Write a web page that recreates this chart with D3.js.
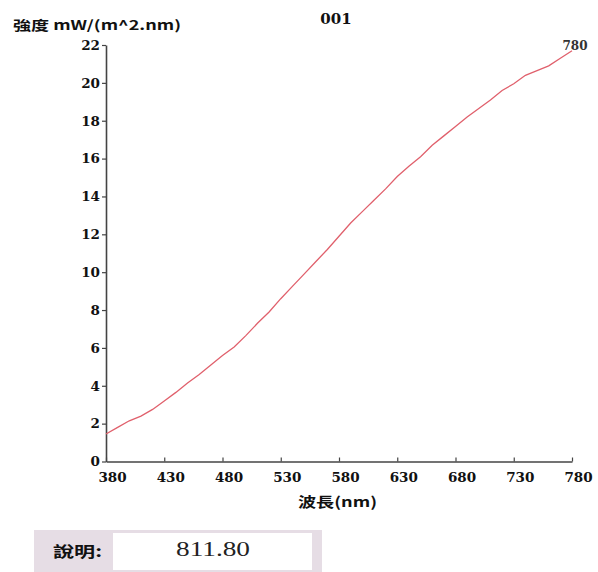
<!DOCTYPE html>
<html><head><meta charset="utf-8">
<script src="https://cdn.jsdelivr.net/npm/d3@7"></script>
<style>
html,body{margin:0;padding:0;background:#fff;}
svg{display:block;}
</style></head>
<body>
<svg id="c" width="598" height="572"></svg>
<script>
const wavelengths = [380,390,400,410,420,430,440,450,460,470,480,490,500,510,520,530,540,550,560,570,580,590,600,610,620,630,640,650,660,670,680,690,700,710,720,730,740,750,760,770,780];
const intensity  = [1.45,1.8,2.15,2.4,2.75,3.2,3.65,4.15,4.6,5.1,5.6,6.05,6.65,7.3,7.9,8.6,9.25,9.9,10.55,11.2,11.9,12.6,13.2,13.8,14.4,15.05,15.6,16.1,16.7,17.2,17.7,18.2,18.65,19.1,19.6,19.95,20.4,20.65,20.9,21.3,21.7];
const xTicks = [380,430,480,530,580,630,680,730,780];
const yTicks = [0,2,4,6,8,10,12,14,16,18,20,22];
const chartTitle = "001";
const yTitle = "強度 mW/(m^2.nm)";
const xTitle = "波長(nm)";
const endLabel = "780";
const noteLabel = "說明:";
const noteValue = "811.80";

const svg = d3.select("#c");
const x = d3.scaleLinear().domain([380,780]).range([106,572]);
const y = d3.scaleLinear().domain([0,22]).range([461.5,45]);
const numFont = "'DejaVu Serif', serif";
const cjkFont = "'Noto Sans CJK TC','Noto Sans CJK JP',sans-serif";

// axes
const xAxis = svg.append("g").attr("transform","translate(0,461.5)")
  .call(d3.axisBottom(x).tickValues(xTicks).tickSize(3).tickSizeOuter(0).tickFormat(d3.format("d")));
xAxis.selectAll(".tick line").attr("y1",0).attr("y2",-4);
const yAxis = svg.append("g").attr("transform","translate(106,0)")
  .call(d3.axisLeft(y).tickValues(yTicks).tickSize(4).tickSizeOuter(0).tickFormat(d3.format("d")));
[xAxis,yAxis].forEach(g=>{
  g.select(".domain").attr("stroke","#444").attr("stroke-width",1.6);
  g.selectAll(".tick line").attr("stroke","#444").attr("stroke-width",1.2);
  g.selectAll(".tick text").attr("fill","#111").style("font-family",numFont)
    .style("font-weight","bold").style("font-size","13.5px");
});
xAxis.selectAll(".tick text").attr("dy","0.35em").attr("y",16).attr("x",6);
yAxis.selectAll(".tick text").attr("x",-6);

// line
svg.append("path")
  .datum(wavelengths.map((w,i)=>[w,intensity[i]]))
  .attr("fill","none").attr("stroke","#e0606c").attr("stroke-width",1.3)
  .attr("d", d3.line().x(d=>x(d[0])).y(d=>y(d[1])));

// end label
svg.append("text").attr("x",x(780)+3).attr("y",y(intensity[intensity.length-1])-1)
  .attr("text-anchor","middle").style("font-family",numFont).style("font-weight","bold").style("font-size","12px")
  .attr("fill","#333").text(endLabel);

// titles
svg.append("text").attr("x",336).attr("y",24).attr("text-anchor","middle")
  .style("font-family",numFont).style("font-weight","bold").style("font-size","15px").attr("fill","#111").text(chartTitle);
svg.append("text").attr("x",13).attr("y",30)
  .attr("textLength",168).attr("lengthAdjust","spacingAndGlyphs")
  .style("font-family",cjkFont).style("font-weight","bold").style("font-size","13px").attr("fill","#111").text(yTitle);
svg.append("text").attr("x",298).attr("y",507)
  .attr("textLength",79).attr("lengthAdjust","spacingAndGlyphs")
  .style("font-family",cjkFont).style("font-weight","bold").style("font-size","14px").attr("fill","#111").text(xTitle);

// note box
svg.append("rect").attr("x",34).attr("y",530).attr("width",288).attr("height",42).attr("fill","#e6dde5");
svg.append("rect").attr("x",113).attr("y",533).attr("width",199).attr("height",37).attr("fill","#fff");
svg.append("text").attr("x",53).attr("y",557)
  .attr("textLength",49).attr("lengthAdjust","spacingAndGlyphs")
  .style("font-family",cjkFont).style("font-weight","bold").style("font-size","15px").attr("fill","#111").text(noteLabel);
svg.append("text").attr("x",213).attr("y",556).attr("text-anchor","middle")
  .attr("textLength",74).attr("lengthAdjust","spacingAndGlyphs")
  .style("font-family","'Liberation Serif', serif").style("font-size","22px").attr("fill","#222").text(noteValue);
</script>
</body></html>
